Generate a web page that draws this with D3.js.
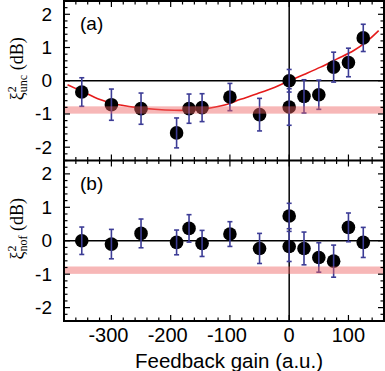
<!DOCTYPE html>
<html><head><meta charset="utf-8">
<script src="https://cdn.jsdelivr.net/npm/d3@7"></script>
<style>body{margin:0;background:#fff}svg{display:block}</style>
</head><body>
<script>
const gains = [-350,-300,-250,-190,-169,-147,-100,-50,0,0,25,50,75,100,125];
const uncValues = [-0.34,-0.72,-0.84,-1.57,-0.84,-0.81,-0.49,-1.02,0.00,-0.79,-0.47,-0.42,0.41,0.55,1.29];
const uncErrors = [0.43,0.47,0.47,0.45,0.44,0.42,0.41,0.49,0.34,0.55,0.50,0.44,0.45,0.43,0.41];
const nofValues = [0.00,-0.10,0.22,-0.05,0.37,-0.08,0.20,-0.23,0.74,-0.17,-0.23,-0.50,-0.61,0.40,-0.05];
const nofErrors = [0.41,0.44,0.43,0.37,0.41,0.39,0.37,0.45,0.38,0.45,0.49,0.44,0.48,0.43,0.45];
const fitCurve = [[-374,-0.12],[-340,-0.40],[-323,-0.54],[-295,-0.69],[-260,-0.80],[-227,-0.86],[-194,-0.89],[-160,-0.88],[-143,-0.85],[-109,-0.73],[-82,-0.56],[-54,-0.39],[-25,-0.20],[0,0],[25,0.19],[53,0.41],[80,0.65],[109,0.91],[130,1.17],[151,1.51]];
const bandRange = [-0.99,-0.77];
const xTicks = [-300,-200,-100,0,100];
const yTicks = [-2,-1,0,1,2];
const xDomain = [-380,160];
const yDomain = [-2.4,2.4];

const W=385,H=371;
const L=64,R=384;
const svg=d3.select("body").append("svg").attr("width",W).attr("height",H);
const x=d3.scaleLinear().domain(xDomain).range([L,R]);

const panels=[
 {top:1,bot:160.5,vals:uncValues,errs:uncErrors,label:"(a)",sub:"unc",curve:true},
 {top:160.5,bot:321,vals:nofValues,errs:nofErrors,label:"(b)",sub:"nof",curve:false}
];

panels.forEach((p,pi)=>{
  const y=d3.scaleLinear().domain(yDomain).range([p.bot,p.top]);
  const g=svg.append("g");
  // zero lines
  g.append("line").attr("x1",L).attr("x2",R).attr("y1",y(0)).attr("y2",y(0)).attr("stroke","#000").attr("stroke-width",1.5);
  g.append("line").attr("x1",x(0)).attr("x2",x(0)).attr("y1",p.top).attr("y2",p.bot).attr("stroke","#000").attr("stroke-width",1.5);
  // curve
  if(p.curve){
    g.append("path").datum(fitCurve)
      .attr("d",d3.line().x(d=>x(d[0])).y(d=>y(d[1])).curve(d3.curveCatmullRom))
      .attr("fill","none").attr("stroke","#e51b1b").attr("stroke-width",1.6);
  }
  const data=gains.map((gv,i)=>({x:gv,v:p.vals[i],e:p.errs[i]}));
  g.selectAll("circle").data(data).join("circle")
    .attr("cx",d=>x(d.x)).attr("cy",d=>y(d.v)).attr("r",6.8).attr("fill","#000");
  const eb=g.append("g").attr("stroke","#3c3c96").attr("stroke-width",1.6);
  data.forEach(d=>{
    eb.append("line").attr("x1",x(d.x)).attr("x2",x(d.x)).attr("y1",y(d.v+d.e)).attr("y2",y(d.v-d.e));
    eb.append("line").attr("x1",x(d.x)-2.5).attr("x2",x(d.x)+2.5).attr("y1",y(d.v+d.e)).attr("y2",y(d.v+d.e));
    eb.append("line").attr("x1",x(d.x)-2.5).attr("x2",x(d.x)+2.5).attr("y1",y(d.v-d.e)).attr("y2",y(d.v-d.e));
  });
  // band
  g.append("rect").attr("x",L).attr("width",R-L).attr("y",y(bandRange[1])).attr("height",y(bandRange[0])-y(bandRange[1]))
    .attr("fill","rgb(238,96,96)").attr("fill-opacity",0.45);
  // ticks
  const tk=svg.append("g").attr("stroke","#000").attr("stroke-width",1.2);
  const xMinor=d3.range(-380,161,20);
  xMinor.forEach(v=>{
    const major=xTicks.includes(v);
    const len=major?6:3.5;
    tk.append("line").attr("x1",x(v)).attr("x2",x(v)).attr("y1",p.top).attr("y2",p.top+len);
    tk.append("line").attr("x1",x(v)).attr("x2",x(v)).attr("y1",p.bot).attr("y2",p.bot-len);
  });
  const yMinor=d3.range(-24,25,2).map(v=>v/10);
  yMinor.forEach(v=>{
    const major=yTicks.includes(v);
    const len=major?6:3.5;
    tk.append("line").attr("x1",L).attr("x2",L+len).attr("y1",y(v)).attr("y2",y(v));
    tk.append("line").attr("x1",R).attr("x2",R-len).attr("y1",y(v)).attr("y2",y(v));
  });
  // y tick labels
  yTicks.forEach(v=>{
    svg.append("text").attr("x",52).attr("y",y(v)+6.5).attr("text-anchor","end")
      .attr("font-family","Liberation Sans, Arial, sans-serif").attr("font-size",19)
      .text(v<0?"-"+Math.abs(v):String(v));
  });
  // panel label
  svg.append("text").attr("x",80).attr("y",p.top+29).attr("font-family","Liberation Sans, Arial, sans-serif")
    .attr("font-size",19).text(p.label);
  // y axis title
  const cy=(p.top+p.bot)/2-12;
  const t=svg.append("text").attr("transform",`translate(23,${cy}) rotate(-90)`).attr("text-anchor","middle")
    .attr("font-family","Liberation Serif, Times New Roman, serif").attr("font-size",18);
  t.append("tspan").text("ξ");
  t.append("tspan").attr("font-size",12).attr("dy",-7).text("2");
  t.append("tspan").attr("font-size",12).attr("dx",-6).attr("dy",11).text(p.sub);
  t.append("tspan").attr("dy",-4).text(" (dB)");
});
// frame
svg.append("rect").attr("x",L).attr("y",1).attr("width",R-L).attr("height",320).attr("fill","none").attr("stroke","#000").attr("stroke-width",2);
svg.append("line").attr("x1",L).attr("x2",R).attr("y1",160.5).attr("y2",160.5).attr("stroke","#000").attr("stroke-width",2);
// x tick labels
xTicks.forEach(v=>{
  svg.append("text").attr("x",x(v)-(v<0?3:0)).attr("y",342).attr("text-anchor","middle")
    .attr("font-family","Liberation Sans, Arial, sans-serif").attr("font-size",20)
    .text(v<0?"-"+Math.abs(v):String(v));
});
svg.append("text").attr("x",229).attr("y",368).attr("text-anchor","middle")
  .attr("font-family","Liberation Sans, Arial, sans-serif").attr("font-size",20.5)
  .text("Feedback gain (a.u.)");
</script>
</body></html>
